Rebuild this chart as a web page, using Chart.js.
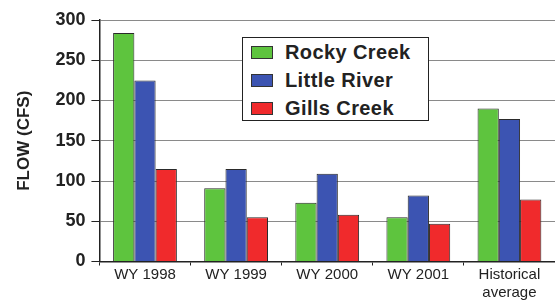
<!DOCTYPE html>
<html>
<head>
<meta charset="utf-8">
<script src="https://cdn.jsdelivr.net/npm/chart.js@4"></script>
<style>
  body { margin: 0; background: #fff; }
  #wrap { position: relative; width: 555px; height: 300px; }
  #legend {
    position: absolute; left: 242px; top: 37px; width: 187px; height: 84px;
    box-sizing: border-box; border: 1px solid #222; background: #fff;
    font: bold 20px "Liberation Sans", Arial, sans-serif; color: #222;
    letter-spacing: 0.4px; padding: 0 0 0 8px;
  }
  #legend div { height: 28px; line-height: 28px; }
  #legend span.sw {
    display: inline-block; width: 22px; height: 13px; border: 1px solid #333;
    box-sizing: border-box; vertical-align: 0px; margin-right: 12px;
  }
</style>
</head>
<body>
<div id="wrap">
  <canvas id="flowChart" width="555" height="300"></canvas>
  <div id="legend"></div>
</div>
<script>
const categories = ['WY 1998', 'WY 1999', 'WY 2000', 'WY 2001', ['Historical', 'average']];
const rockyCreek = [284, 91, 73, 55, 190];
const littleRiver = [225, 115, 109, 82, 177];
const gillsCreek = [115, 55, 58, 47, 77];
const yTicks = [0, 50, 100, 150, 200, 250, 300];

const series = [
  {label: 'Rocky Creek', data: rockyCreek, color: '#5ec43e'},
  {label: 'Little River', data: littleRiver, color: '#3c54b2'},
  {label: 'Gills Creek', data: gillsCreek, color: '#f02a2c'}
];

const ctx = document.getElementById('flowChart').getContext('2d');
new Chart(ctx, {
  type: 'bar',
  data: {
    labels: categories,
    datasets: series.map(s => ({
      label: s.label, data: s.data, backgroundColor: s.color,
      borderColor: '#2a2a2a', borderWidth: 1,
      categoryPercentage: 0.7, barPercentage: 1
    }))
  },
  options: {
    responsive: false,
    animation: false,
    layout: {padding: {top: 20, right: 0, left: 14, bottom: -2}},
    plugins: {legend: {display: false}, tooltip: {enabled: false}},
    scales: {
      x: {
        grid: {drawOnChartArea: false, tickLength: 4, color: '#222'},
        border: {color: '#222', width: 1.5},
        ticks: {color: '#222', font: {family: 'Liberation Sans', size: 15, lineHeight: 1.15}, padding: 1}
      },
      y: {
        min: 0, max: 300,
        afterBuildTicks: axis => { axis.ticks = yTicks.map(v => ({value: v})); },
        grid: {color: '#8a8a8a', tickColor: '#222', tickLength: 8},
        border: {color: '#222', width: 1.5},
        ticks: {color: '#222', font: {family: 'Liberation Sans', size: 18, weight: 'bold'}, padding: 6},
        title: {display: true, text: 'FLOW (CFS)', color: '#222',
          font: {family: 'Liberation Sans', size: 17, weight: 'bold'}, padding: {top: 0, bottom: 15}}
      }
    }
  }
});

document.getElementById('legend').innerHTML = series.map(s =>
  `<div><span class="sw" style="background:${s.color}"></span>${s.label}</div>`).join('');
</script>
</body>
</html>
